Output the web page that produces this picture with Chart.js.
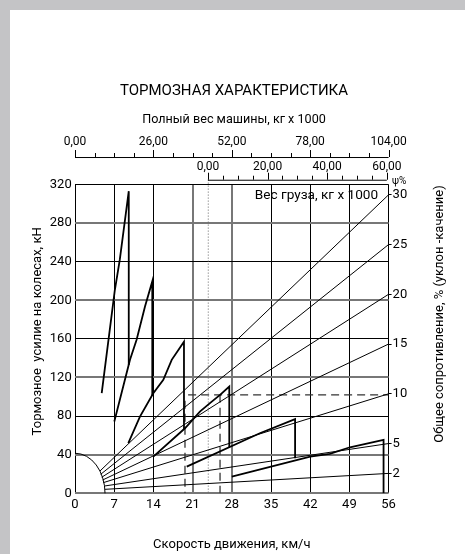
<!DOCTYPE html>
<html><head><meta charset="utf-8">
<script src="https://cdn.jsdelivr.net/npm/chart.js@4"></script>
<style>
html,body{margin:0;padding:0;background:#c4c4c6;overflow:hidden;}
#wrap{position:absolute;left:10px;top:10px;width:455px;height:544px;background:#fff;}
canvas{display:block;}
</style></head><body>
<div id="wrap"><canvas id="c" width="455" height="544"></canvas></div>
<script>
const FONT = 'Roboto, "Noto Sans", sans-serif';

// ---- texts ----
const chartTitle = 'ТОРМОЗНАЯ ХАРАКТЕРИСТИКА';
const fullWeightTitle = 'Полный вес машины, кг x 1000';
const cargoTitle = 'Вес груза, кг х 1000';
const speedTitle = 'Скорость движения, км/ч';
const forceTitle = 'Тормозное  усилие на колесах, кН';
const psiTitle = 'Общее сопротивление, % (уклон -качение)';
const psiUnit = 'ψ%';

// ---- ticks ----
const speedTicks = [0, 7, 14, 21, 28, 35, 42, 49, 56];
const forceTicks = [0, 40, 80, 120, 160, 200, 240, 280, 320];
const psiTicks = [2, 5, 10, 15, 20, 25, 30];
const fullWeightTicks = [0, 26, 52, 78, 104];
const fullWeightMinorStep = 6.5;
const cargoTicks = [0, 20, 40, 60];
const cargoMinorStep = 5;

// ---- braking curves by gear (speed km/h, force kN) ----
const gear1Speed = [4.77, 7.1, 8.0, 9.6, 9.6];
const gear1Force = [103.7, 210, 242, 313, 133];
const gear2Speed = [7.02, 9.82, 11.0, 12.5, 13.8, 13.8];
const gear2Force = [74.3, 138.4, 159, 193.6, 219.5, 101];
const gear3Speed = [9.52, 11.6, 13.98, 15.77, 17.27, 19.46, 19.46];
const gear3Force = [51.9, 79.5, 103.7, 117.5, 138.3, 157, 66.5];
const gear4Speed = [13.98, 19.64, 22.3, 24.1, 25.9, 27.55, 27.55];
const gear4Force = [38, 67.4, 84.6, 93.4, 102, 110.6, 48];
const gear5Speed = [19.95, 33.0, 39.3, 39.3];
const gear5Force = [27.6, 62.2, 76.8, 36.3];
const gear6Speed = [28, 42, 45.5, 49.1, 55.1, 55.1];
const gear6Force = [17.2, 38, 40.8, 47.7, 55.3, 0];

// ---- total resistance fan lines (psi %) ----
const fanPsi = [30, 25, 20, 15, 10, 5, 2];
const fanStartSpeed = [4.46, 4.59, 4.77, 4.95, 5.05, 5.23, 5.36];
const fanStartPsi = [2.24, 1.91, 1.61, 1.34, 1.07, 0.73, 0.40];
const fanEndSpeed = 56;

// ---- example guide lines ----
const guideHSpeed = [20.2, 56];
const guideHForce = [102, 102];
const guideV1Speed = [19.64, 19.64];
const guideV1Force = [96, 0];
const guideV2Speed = [25.9, 25.9];
const guideV2Force = [102, 0];
const emptyLineSpeed = [23.8, 23.8];
const emptyLineForce = [325, 0];

// ---- corner arc radii ----
const arcRadiusSpeed = 5.36;
const arcRadiusForce = 41.5;

// ---- build datasets ----
const pts = (s, f) => s.map((v, i) => ({x: v, y: f[i]}));
const base = {showLine: true, pointRadius: 0, fill: false, tension: 0, borderColor: '#000'};
const datasets = [];
[[gear1Speed, gear1Force], [gear2Speed, gear2Force], [gear3Speed, gear3Force],
 [gear4Speed, gear4Force], [gear5Speed, gear5Force], [gear6Speed, gear6Force]].forEach(([s, f]) => {
  datasets.push({...base, data: pts(s, f), borderWidth: 1.8});
});
fanPsi.forEach((p, i) => {
  datasets.push({...base, yAxisID: 'y2', data: [{x: fanStartSpeed[i], y: fanStartPsi[i]}, {x: fanEndSpeed, y: p}], borderWidth: 1});
});
const dashed = {...base, borderColor: '#333', borderWidth: 1.3, borderDash: [8, 5]};
datasets.push({...dashed, data: pts(guideHSpeed, guideHForce)});
datasets.push({...dashed, data: pts(guideV1Speed, guideV1Force)});
datasets.push({...dashed, data: pts(guideV2Speed, guideV2Force)});
datasets.push({...base, borderColor: '#666', borderWidth: 1, borderDash: [1, 2], clip: false, data: pts(emptyLineSpeed, emptyLineForce)});

const fmt2 = v => v.toFixed(2).replace('.', ',');
const grayForce = [0, 40, 120, 200, 280];
const graySpeed = [21, 28];

const extras = {
  id: 'extras',
  afterDraw(chart) {
    const {ctx, scales: {x, y, x2, x3}} = chart;
    ctx.save();
    ctx.strokeStyle = '#000';
    ctx.fillStyle = '#000';
    ctx.lineWidth = 1;
    // top axis: full weight
    const yA = x2.bottom - 2.7;
    ctx.beginPath();
    ctx.moveTo(x2.getPixelForValue(0), yA + 0.5);
    ctx.lineTo(x2.getPixelForValue(104), yA + 0.5);
    for (let v = 0; v <= 104 + 1e-6; v += fullWeightMinorStep) {
      const px = Math.round(x2.getPixelForValue(v)) + 0.5;
      const len = fullWeightTicks.some(t => Math.abs(t - v) < 1e-6) ? 7 : 4;
      ctx.moveTo(px, yA); ctx.lineTo(px, yA - len);
    }
    ctx.stroke();
    // top axis: cargo weight
    const yB = x3.bottom - 4.7;
    ctx.beginPath();
    ctx.moveTo(x3.getPixelForValue(0), yB + 0.5);
    ctx.lineTo(x3.getPixelForValue(60), yB + 0.5);
    for (let v = 0; v <= 60 + 1e-6; v += cargoMinorStep) {
      const px = Math.round(x3.getPixelForValue(v)) + 0.5;
      const len = cargoTicks.includes(v) ? 7 : 4;
      ctx.moveTo(px, yB); ctx.lineTo(px, yB - len);
    }
    ctx.stroke();
    // corner arc
    const ox = x.getPixelForValue(0), oy = y.getPixelForValue(0);
    ctx.beginPath();
    ctx.ellipse(ox, oy, x.getPixelForValue(arcRadiusSpeed) - ox, oy - y.getPixelForValue(arcRadiusForce), 0, -Math.PI / 2, 0);
    ctx.stroke();
    // texts
    ctx.font = '13px ' + FONT;
    ctx.textBaseline = 'middle';
    ctx.textAlign = 'center';
    ctx.save();
    ctx.translate(28, (y.top + y.bottom) / 2 - 7.5);
    ctx.rotate(-Math.PI / 2);
    ctx.fillText(forceTitle, 0, 0);
    ctx.restore();
    ctx.save();
    ctx.translate(430, 304);
    ctx.rotate(-Math.PI / 2);
    ctx.fillText(psiTitle, 0, 0);
    ctx.restore();
    ctx.font = '13.6px ' + FONT;
    ctx.textAlign = 'right';
    ctx.fillText(cargoTitle, x.right - 10.5, y.top + 11.5);
    ctx.font = '10px ' + FONT;
    ctx.textAlign = 'left';
    ctx.fillText(psiUnit, x.right + 3.5, yB + 1.5);
    ctx.restore();
  }
};

new Chart(document.getElementById('c'), {
  type: 'scatter',
  data: {datasets},
  plugins: [extras],
  options: {
    responsive: false,
    animation: false,
    devicePixelRatio: 1,
    layout: {padding: {left: 0, right: 7, top: 0, bottom: 0}},
    plugins: {
      legend: {display: false},
      tooltip: {enabled: false},
      title: {display: true, text: chartTitle, color: '#000', font: {family: FONT, size: 15, weight: 'normal'}, padding: {top: 72.5, bottom: 0}},
      subtitle: {display: true, text: fullWeightTitle, color: '#000', font: {family: FONT, size: 12.6}, padding: {top: 11.9, bottom: 0}}
    },
    scales: {
      x: {
        type: 'linear', position: 'bottom', min: 0, max: 56,
        afterBuildTicks: s => { s.ticks = speedTicks.map(v => ({value: v})); },
        afterFit: s => { s.height = 60.7; },
        ticks: {color: '#000', font: {family: FONT, size: 13}, padding: 3.9, autoSkip: false, maxRotation: 0},
        grid: {drawTicks: false, color: c => graySpeed.includes(c.tick.value) ? '#777' : '#000', lineWidth: c => graySpeed.includes(c.tick.value) ? 2 : 1},
        border: {display: false},
        title: {display: true, text: speedTitle, color: '#000', font: {family: FONT, size: 13}, padding: {top: 0, bottom: 1.2}}
      },
      y: {
        type: 'linear', position: 'left', min: 0, max: 320,
        afterBuildTicks: s => { s.ticks = forceTicks.map(v => ({value: v})); },
        afterFit: s => { s.width = 65; },
        ticks: {color: '#000', font: {family: FONT, size: 13}, padding: 3.3},
        grid: {drawTicks: false, color: c => grayForce.includes(c.tick.value) ? '#777' : '#000', lineWidth: c => grayForce.includes(c.tick.value) ? 2 : 1},
        border: {display: false}
      },
      y2: {
        type: 'linear', position: 'right', min: 0, max: 31.04,
        afterBuildTicks: s => { s.ticks = psiTicks.map(v => ({value: v})); },
        afterFit: s => { s.width = 69.4; },
        ticks: {color: '#000', font: {family: FONT, size: 13}, padding: 1},
        grid: {drawOnChartArea: false, drawTicks: true, tickLength: 3, color: '#000'},
        border: {display: false}
      },
      x2: {
        type: 'linear', position: 'top', min: 0, max: 104, weight: 2,
        afterBuildTicks: s => { s.ticks = fullWeightTicks.map(v => ({value: v})); },
        afterFit: s => { s.height = 32.2; },
        ticks: {color: '#000', font: {family: FONT, size: 12}, padding: 10.8, autoSkip: false, maxRotation: 0, callback: v => fmt2(v)},
        grid: {display: false, drawTicks: false},
        border: {display: false}
      },
      x3: {
        type: 'linear', position: 'top', min: -44.6, max: 60.6, weight: 1,
        afterBuildTicks: s => { s.ticks = cargoTicks.map(v => ({value: v})); },
        afterFit: s => { s.height = 24.7; },
        ticks: {color: '#000', font: {family: FONT, size: 12}, padding: 10, autoSkip: false, maxRotation: 0, callback: v => fmt2(v)},
        grid: {display: false, drawTicks: false},
        border: {display: false}
      }
    }
  }
});
</script>
</body></html>
